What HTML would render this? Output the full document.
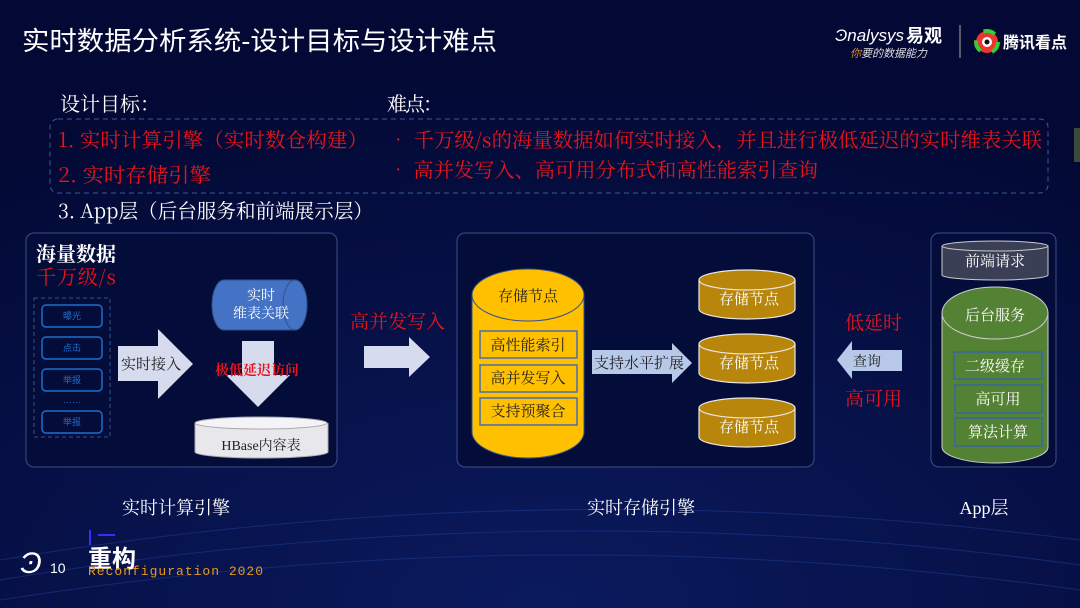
<!DOCTYPE html>
<html><head><meta charset="utf-8"><style>
html,body{margin:0;padding:0;background:#030934;}
svg{display:block}
.s{font-family:"Liberation Serif","Noto Serif CJK SC",serif}
.sc{font-family:"Noto Serif CJK SC","Liberation Serif",serif}
.ss{font-family:"Liberation Sans","Noto Sans CJK SC",sans-serif}
</style></head><body>
<svg width="1080" height="608" viewBox="0 0 1080 608" xmlns="http://www.w3.org/2000/svg">
<defs>
<radialGradient id="bg" cx="0.5" cy="1" r="0.9">
<stop offset="0" stop-color="#0b1a5e"/><stop offset="1" stop-color="#030934"/></radialGradient>
</defs>
<rect width="1080" height="608" fill="url(#bg)"/>
<g stroke="#1a3a8a" stroke-width="1" fill="none" opacity="0.6">
<path d="M0 560 Q540 470 1080 540"/><path d="M0 580 Q540 490 1080 565"/><path d="M0 600 Q540 515 1080 590"/>
</g>
<text x="22" y="50" class="ss" font-size="26" fill="#fff" textLength="475" lengthAdjust="spacingAndGlyphs">实时数据分析系统-设计目标与设计难点</text>
<!-- logos -->
<text x="835" y="41" class="ss" font-size="17" fill="#fff" font-style="italic">Ͽnalysys</text>
<text x="906" y="42" class="ss" font-size="18" fill="#fff" font-weight="bold">易观</text>
<text x="850" y="57" class="ss" font-size="11" fill="#ddd" font-style="italic"><tspan fill="#e88a1a">你</tspan>要的数据能力</text>
<line x1="960" y1="25" x2="960" y2="58" stroke="#aaa"/>
<circle cx="987" cy="42" r="11" fill="#e33"/><circle cx="987" cy="42" r="11" fill="none" stroke="#3c3" stroke-width="4" stroke-dasharray="12 12"/>
<circle cx="987" cy="42" r="5" fill="#fff"/><circle cx="987" cy="42" r="2.5" fill="#111"/>
<text x="1003" y="48" class="ss" font-size="16" fill="#fff" font-weight="bold">腾讯看点</text>
<!-- goals -->
<text x="60" y="111" class="sc" font-size="20" fill="#fff" textLength="100">设计目标：</text>
<text x="387" y="111" class="sc" font-size="20" fill="#fff" textLength="56">难点：</text>
<rect x="50" y="119" width="998" height="74" rx="8" fill="none" stroke="#3a5a9a" stroke-dasharray="5 4"/>
<text x="58" y="147" class="sc" font-size="20" fill="#e8141a" textLength="310" lengthAdjust="spacingAndGlyphs">1.  实时计算引擎（实时数仓构建）</text>
<text x="58" y="182" class="sc" font-size="20" fill="#e8141a" textLength="153" lengthAdjust="spacingAndGlyphs">2.  实时存储引擎</text>
<text x="388" y="147" class="sc" font-size="20" fill="#e8141a" textLength="654" lengthAdjust="spacingAndGlyphs">•   千万级/s的海量数据如何实时接入，并且进行极低延迟的实时维表关联</text>
<text x="388" y="177" class="sc" font-size="20" fill="#e8141a" textLength="430" lengthAdjust="spacingAndGlyphs">•   高并发写入、高可用分布式和高性能索引查询</text>
<text x="58" y="218" class="sc" font-size="20" fill="#fff" textLength="315" lengthAdjust="spacingAndGlyphs">3.  App层（后台服务和前端展示层）</text>
<!-- panel 1 -->
<rect x="26" y="233" width="311" height="234" rx="8" fill="#040c3a" stroke="#3a5088"/>
<text x="36" y="261" class="s" font-size="20" fill="#fff" font-weight="bold">海量数据</text>
<text x="36" y="284" class="sc" font-size="20" fill="#e8141a" textLength="80">千万级/s</text>
<rect x="34" y="298" width="76" height="139" fill="none" stroke="#3a5088" stroke-dasharray="4 3"/>
<g stroke="#1a6ed0" stroke-width="1.5" fill="none">
<rect x="42" y="305" width="60" height="22" rx="4"/><rect x="42" y="337" width="60" height="22" rx="4"/>
<rect x="42" y="369" width="60" height="22" rx="4"/><rect x="42" y="411" width="60" height="22" rx="4"/></g>
<g class="ss" font-size="9" fill="#1a6ed0" text-anchor="middle">
<text x="72" y="319">曝光</text><text x="72" y="351">点击</text><text x="72" y="383">举报</text><text x="72" y="403">……</text><text x="72" y="425">举报</text></g>
<polygon points="118,346 158,346 158,329 193,364 158,399 158,381 118,381" fill="#d6dbee"/>
<text x="121" y="369" class="s" font-size="15" fill="#222">实时接入</text>
<path d="M224,280 L295,280 A12,25 0 0 1 295,330 L224,330 A12,25 0 0 1 224,280 Z" fill="#4472c4" stroke="#2f528f"/>
<ellipse cx="295" cy="305" rx="12" ry="25" fill="none" stroke="#2f528f"/>
<text x="261" y="300" class="s" font-size="14" fill="#fff" text-anchor="middle">实时</text>
<text x="261" y="318" class="s" font-size="14" fill="#fff" text-anchor="middle">维表关联</text>
<polygon points="242,341 274,341 274,375 290,375 258,407 226,375 242,375" fill="#d6dbee"/>
<text x="215" y="375" class="s" font-size="14" fill="#e8141a" font-weight="bold">极低延迟访问</text>
<path d="M195,423 L195,452 A66,6 0 0 0 328,452 L328,423" fill="#e8e8ec" stroke="#aaa"/>
<ellipse cx="261" cy="423" rx="66" ry="6" fill="#f4f4f8" stroke="#aaa"/>
<text x="261" y="450" class="s" font-size="14" fill="#222" text-anchor="middle">HBase内容表</text>
<text x="176" y="514" class="s" font-size="18" fill="#fff" text-anchor="middle">实时计算引擎</text>
<!-- middle arrow -->
<text x="350" y="328" class="s" font-size="19" fill="#e8141a">高并发写入</text>
<polygon points="364,346 409,346 409,337 430,357 409,377 409,368 364,368" fill="#d6dbee"/>
<!-- panel 2 -->
<rect x="457" y="233" width="357" height="234" rx="8" fill="#040c3a" stroke="#3a5088"/>
<path d="M472,295 L472,432 A56,26 0 0 0 584,432 L584,295" fill="#ffc000" stroke="#2f528f"/>
<ellipse cx="528" cy="295" rx="56" ry="26" fill="#ffc000" stroke="#2f528f"/>
<text x="528" y="301" class="s" font-size="15" fill="#222" text-anchor="middle">存储节点</text>
<g fill="#ffc000" stroke="#4a6ab0" stroke-width="1.5">
<rect x="480" y="331" width="97" height="27"/><rect x="480" y="365" width="97" height="27"/><rect x="480" y="398" width="97" height="27"/></g>
<g class="s" font-size="15" fill="#222" text-anchor="middle">
<text x="528" y="350">高性能索引</text><text x="528" y="383">高并发写入</text><text x="528" y="416">支持预聚合</text></g>
<polygon points="592,350 672,350 672,343 692,363 672,383 672,374 592,374" fill="#b8c8e8"/>
<text x="594" y="368" class="s" font-size="15" fill="#222">支持水平扩展</text>
<g fill="#b8860b" stroke="#e8e8e8" stroke-width="1.2">
<path d="M699,280 L699,309 A48,10 0 0 0 795,309 L795,280"/><ellipse cx="747" cy="280" rx="48" ry="10"/>
<path d="M699,344 L699,373 A48,10 0 0 0 795,373 L795,344"/><ellipse cx="747" cy="344" rx="48" ry="10"/>
<path d="M699,408 L699,437 A48,10 0 0 0 795,437 L795,408"/><ellipse cx="747" cy="408" rx="48" ry="10"/></g>
<g class="s" font-size="15" fill="#fff" text-anchor="middle">
<text x="749" y="304">存储节点</text><text x="749" y="368">存储节点</text><text x="749" y="432">存储节点</text></g>
<text x="641" y="514" class="s" font-size="18" fill="#fff" text-anchor="middle">实时存储引擎</text>
<!-- right arrow -->
<text x="845" y="329" class="s" font-size="19" fill="#e8141a">低延时</text>
<polygon points="902,350 852,350 852,341 837,360 852,379 852,371 902,371" fill="#b8c8e8"/>
<text x="853" y="366" class="s" font-size="14" fill="#222">查询</text>
<text x="845" y="405" class="s" font-size="19" fill="#e8141a">高可用</text>
<!-- panel 3 -->
<rect x="931" y="233" width="125" height="234" rx="8" fill="#040c3a" stroke="#3a5088"/>
<path d="M942,246 L942,275 A53,5 0 0 0 1048,275 L1048,246" fill="#3a3f55" stroke="#ccc"/>
<ellipse cx="995" cy="246" rx="53" ry="5" fill="#3a3f55" stroke="#ccc"/>
<text x="995" y="266" class="s" font-size="15" fill="#fff" text-anchor="middle">前端请求</text>
<path d="M942,313 L942,447 A53,16 0 0 0 1048,447 L1048,313" fill="#548235" stroke="#ccc"/>
<ellipse cx="995" cy="313" rx="53" ry="26" fill="#548235" stroke="#ccc"/>
<text x="995" y="320" class="s" font-size="15" fill="#fff" text-anchor="middle">后台服务</text>
<g fill="#548235" stroke="#2f5fbf" stroke-width="1.2">
<rect x="954" y="352" width="88" height="27"/><rect x="955" y="385" width="87" height="28"/><rect x="955" y="418" width="87" height="28"/></g>
<g class="s" font-size="15" fill="#fff" text-anchor="middle">
<text x="995" y="371">二级缓存</text><text x="998" y="404">高可用</text><text x="998" y="437">算法计算</text></g>
<text x="984" y="514" class="s" font-size="18" fill="#fff" text-anchor="middle">App层</text>
<!-- bottom logo -->
<text x="20" y="573" class="ss" font-size="30" fill="#fff" font-style="italic">Ͽ</text>
<text x="50" y="573" class="ss" font-size="14" fill="#fff">10</text>
<text x="88" y="567" class="ss" font-size="24" fill="#fff" font-weight="bold">重构</text>
<line x1="90" y1="530" x2="90" y2="545" stroke="#3030ff" stroke-width="2"/>
<line x1="98" y1="535" x2="115" y2="535" stroke="#3030ff" stroke-width="2"/>
<text x="88" y="575" font-family="Liberation Mono,monospace" font-size="13" fill="#e89a1a" letter-spacing="1">Reconfiguration 2020</text>
<rect x="1074" y="128" width="6" height="34" fill="#3a4a3a"/>
</svg>
</body></html>
